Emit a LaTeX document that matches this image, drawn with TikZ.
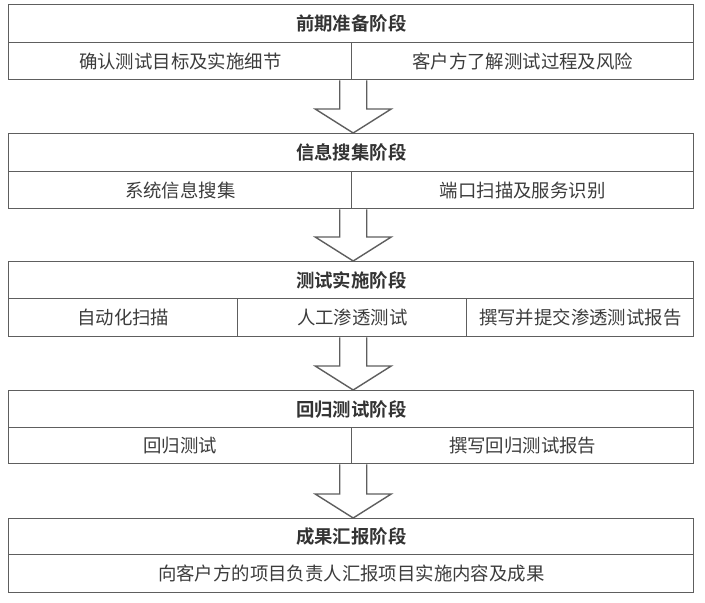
\documentclass[tikz,border=0pt]{standalone}
\usepackage{fontspec}
\setmainfont{Noto Sans CJK SC}[BoldFont={Noto Sans CJK SC Bold}]
\usetikzlibrary{calc}
\definecolor{linec}{HTML}{5E5E5E}
\definecolor{textc}{HTML}{3C3C3C}
\tikzset{
  cell/.style={draw=linec, line width=1.4pt, inner sep=0pt, anchor=north west,
    text=textc, font=\fontsize{18.4}{21}\selectfont},
  headcell/.style={cell, text=black!80, font=\fontsize{18.4}{21}\selectfont\bfseries},
  blockarrow/.style={draw=linec, line width=1.4pt, fill=white, line join=miter}
}
\newcommand\flowarrow[2]{%
  \coordinate (ftop) at ($(#1)+(2,0)$);
  \coordinate (ftip) at ($(#2)+(2,0)$);
  \draw[blockarrow] ($(ftop)+(-13.5,0)$) -- ($(ftip)+(-13.5,-24)$) -- ($(ftip)+(-38,-24)$)
    -- (ftip) -- ($(ftip)+(38,-24)$) -- ($(ftip)+(13.5,-24)$) -- ($(ftop)+(13.5,0)$);
}
\begin{document}
\begin{tikzpicture}[x=1pt,y=-1pt]
\useasboundingbox (0,0) rectangle (705,603);
% stage 1
\node[headcell, minimum width=685pt, minimum height=38pt] (h1) at (8,4) {前期准备阶段};
\node[cell, minimum width=343pt, minimum height=37pt] (a1) at (8,42) {确认测试目标及实施细节};
\node[cell, minimum width=342pt, minimum height=37pt] (b1) at (351,42) {客户方了解测试过程及风险};
% stage 2
\node[headcell, minimum width=685pt, minimum height=38pt] (h2) at (8,133) {信息搜集阶段};
\node[cell, minimum width=343pt, minimum height=37pt] (a2) at (8,171) {系统信息搜集};
\node[cell, minimum width=342pt, minimum height=37pt] (b2) at (351,171) {端口扫描及服务识别};
% stage 3
\node[headcell, minimum width=685pt, minimum height=37pt] (h3) at (8,261) {测试实施阶段};
\node[cell, minimum width=229pt, minimum height=38pt] (a3) at (8,298) {自动化扫描};
\node[cell, minimum width=229pt, minimum height=38pt] (b3) at (237,298) {人工渗透测试};
\node[cell, minimum width=227pt, minimum height=38pt] (c3) at (466,298) {撰写并提交渗透测试报告};
% stage 4
\node[headcell, minimum width=685pt, minimum height=37pt] (h4) at (8,390) {回归测试阶段};
\node[cell, minimum width=343pt, minimum height=36pt] (a4) at (8,427) {回归测试};
\node[cell, minimum width=342pt, minimum height=36pt] (b4) at (351,427) {撰写回归测试报告};
% stage 5
\node[headcell, minimum width=685pt, minimum height=36pt] (h5) at (8,518) {成果汇报阶段};
\node[cell, minimum width=685pt, minimum height=38pt] (a5) at (8,554) {向客户方的项目负责人汇报项目实施内容及成果};
% arrows
\coordinate (s1) at (h1.center |- a1.south); \coordinate (e1) at (h1.center |- h2.north);
\coordinate (s2) at (h2.center |- a2.south); \coordinate (e2) at (h2.center |- h3.north);
\coordinate (s3) at (h3.center |- b3.south); \coordinate (e3) at (h3.center |- h4.north);
\coordinate (s4) at (h4.center |- a4.south); \coordinate (e4) at (h4.center |- h5.north);
\flowarrow{s1}{e1}
\flowarrow{s2}{e2}
\flowarrow{s3}{e3}
\flowarrow{s4}{e4}
\end{tikzpicture}
\end{document}
